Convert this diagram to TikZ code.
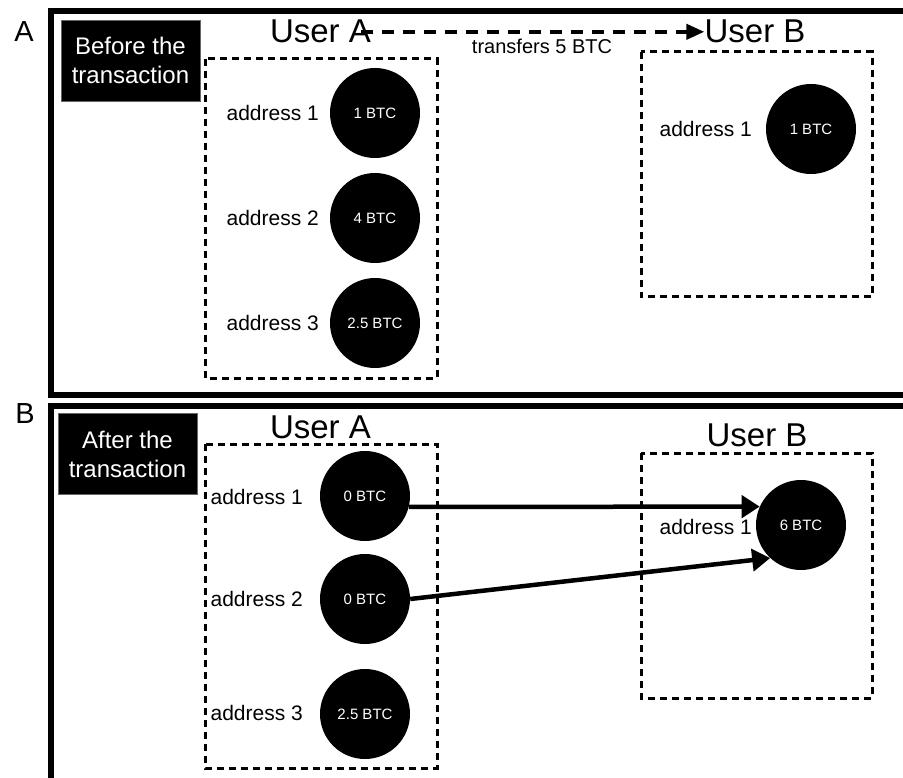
\documentclass[tikz,border=0pt]{standalone}
\usepackage{fontspec}
\setmainfont{Liberation Sans}
\usetikzlibrary{arrows.meta}
\begin{document}
\begin{tikzpicture}[x=1pt,y=-1pt,
  panel/.style={draw=black,line width=6pt},
  tag/.style={font=\fontsize{29}{32}\selectfont,inner sep=0pt},
  phase/.style={fill=black,draw=black!60,line width=0.6pt,text=white,align=center,
    inner sep=0pt,font=\fontsize{24}{29}\selectfont,minimum width=139pt,minimum height=81pt},
  user/.style={font=\fontsize{33}{38}\selectfont,inner sep=0pt,anchor=base},
  wallet/.style={draw=black,line width=3pt,dash pattern=on 7pt off 5pt},
  coin/.style={circle,fill=black,text=white,minimum size=90pt,inner sep=0pt,
    font=\fontsize{15}{17}\selectfont},
  addr/.style={font=\fontsize{21}{24}\selectfont,inner sep=0pt,anchor=east},
  move/.style={line width=4.5pt,-{Triangle[length=18pt,width=22pt]}},
  intent/.style={line width=4pt,dash pattern=on 12pt off 9pt,
    -{Triangle[length=18pt,width=15pt]}}
]
\useasboundingbox (0,0) rectangle (903,778);
\clip (0,0) rectangle (903,778);

% ---------- Panel A: before the transaction ----------
\draw[panel] (50.5,11) rectangle (920,394.5);
\node[tag] (tagA) at (24,32) {A};
\node[phase] (before) at (130.5,60.5) {Before the\\transaction};

\node[user] (uA1) at (320.5,43) {User A};
\node[user] (uB1) at (755,43) {User B};
\draw[intent] ([xshift=-10pt]uA1.east) -- (uB1.west);
\node[font=\fontsize{20}{24}\selectfont,inner sep=0pt] (note) at (542,46) {transfers 5 BTC};

\draw[wallet] (205,59) rectangle (437,378);
\draw[wallet] (641,52) rectangle (872,297);

\node[coin] (a1) at (375,113) {1 BTC};
\node[coin] (a2) at (375,218) {4 BTC};
\node[coin] (a3) at (375,323) {2.5 BTC};
\node[addr] (la1) at (319,113) {address 1};
\node[addr] (la2) at (319,218) {address 2};
\node[addr] (la3) at (319,323) {address 3};

\node[coin] (bA) at (811,129) {1 BTC};
\node[addr] (lbA) at (752,129) {address 1};

% ---------- Panel B: after the transaction ----------
\draw[panel] (50.5,405.5) rectangle (920,800);
\node[tag] (tagB) at (25,414) {B};
\node[phase] (after) at (127.5,454) {After the\\transaction};

\node[user] (uA2) at (320.5,438) {User A};
\node[user] (uB2) at (757,446) {User B};

\draw[wallet] (205,444) rectangle (437,768);
\draw[wallet] (641,453) rectangle (872,698);

\node[coin] (b1) at (365,496) {0 BTC};
\node[coin] (b2) at (365,599) {0 BTC};
\node[coin] (b3) at (365,714) {2.5 BTC};
\node[addr] (lb1) at (303,497) {address 1};
\node[addr] (lb2) at (303,599) {address 2};
\node[addr] (lb3) at (303,713) {address 3};

\node[coin] (b6) at (801,525) {6 BTC};
\node[addr] (lb6) at (752,527) {address 1};

\draw[move] (b1.-14) -- (b6.156);
\draw[move] (b2.east) -- (b6.227);
\end{tikzpicture}
\end{document}
